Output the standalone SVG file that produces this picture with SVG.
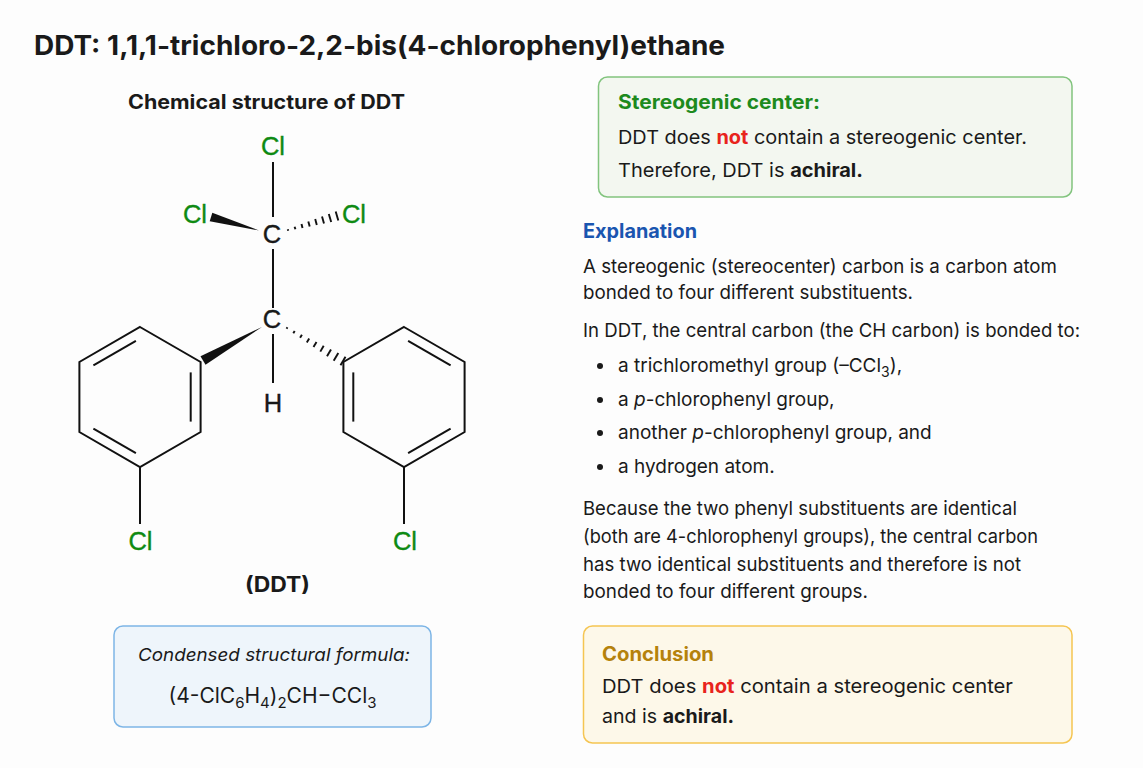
<svg xmlns="http://www.w3.org/2000/svg" width="1143" height="768" viewBox="0 0 1143 768">
<style>
text{font-family:Inter,"Liberation Sans",Arial,sans-serif;fill:#1a1a1a}
.b{font-weight:700}
.body{font-size:19px}
.atom{font-size:25.5px;text-anchor:middle;font-family:"Liberation Sans",Arial,sans-serif;stroke:#111;stroke-width:0.35}
.cl{fill:#0e8a12;stroke:#0e8a12}
.bond{stroke:#111;stroke-width:2;fill:none;stroke-linecap:butt}
.hash{stroke:#111;stroke-width:1.9}
.red{fill:#e8231d;font-weight:700}
</style>
<rect x="0" y="0" width="1143" height="768" fill="#fdfdfd"/>
<text id="title" class="b" x="34" y="55" font-size="26.5" textLength="691" lengthAdjust="spacingAndGlyphs">DDT: 1,1,1-trichloro-2,2-bis(4-chlorophenyl)ethane</text>

<g id="structure">
<text class="b" x="266.5" y="109" font-size="19.5" text-anchor="middle" textLength="277" lengthAdjust="spacingAndGlyphs">Chemical structure of DDT</text>
<g id="bonds">
<line class="bond" x1="273" y1="162" x2="273" y2="217"/>
<line class="bond" x1="273" y1="249" x2="273" y2="308"/>
<line class="bond" x1="273" y1="334" x2="273" y2="383"/>
<polygon points="259,230.5 212.3,212.7 209.7,221.3" fill="#111"/>
<g class="hash">
<line x1="287.8" y1="229.2" x2="288.2" y2="230.8"/>
<line x1="294.6" y1="226.7" x2="295.4" y2="229.3"/>
<line x1="301.5" y1="224.1" x2="302.5" y2="227.9"/>
<line x1="308.3" y1="221.6" x2="309.7" y2="226.4"/>
<line x1="315.2" y1="219" x2="316.8" y2="225"/>
<line x1="322" y1="216.5" x2="324" y2="223.5"/>
<line x1="328.8" y1="213.9" x2="331.2" y2="222.1"/>
<line x1="335.7" y1="211.4" x2="338.3" y2="220.6"/>
</g>
<polygon points="262,327 205.5,364.8 200.5,356.2" fill="#111"/>
<g class="hash">
<line x1="287.4" y1="327.3" x2="286.6" y2="328.7"/>
<line x1="294.7" y1="331" x2="293.3" y2="333.2"/>
<line x1="301.9" y1="334.7" x2="300.1" y2="337.8"/>
<line x1="309.2" y1="338.4" x2="306.8" y2="342.5"/>
<line x1="316.5" y1="342" x2="313.5" y2="347"/>
<line x1="323.7" y1="345.7" x2="320.3" y2="351.6"/>
<line x1="331" y1="349.4" x2="327" y2="356.2"/>
<line x1="338.3" y1="353.1" x2="333.7" y2="360.8"/>
<line x1="345.5" y1="356.7" x2="340.5" y2="365.3"/>
</g>
</g>
<g id="ring-left">
<polygon class="bond" points="140,327 200.6,362 200.6,432 140,467 79.4,432 79.4,362"/>
<line class="bond" x1="135.9" y1="340.8" x2="93.4" y2="365.4"/>
<line class="bond" x1="190.7" y1="372.4" x2="190.7" y2="421.6"/>
<line class="bond" x1="93.4" y1="428.6" x2="135.9" y2="453.2"/>
<line class="bond" x1="140" y1="467" x2="140" y2="524"/>
</g>
<g id="ring-right">
<polygon class="bond" points="404,327 464.6,362 464.6,432 404,467 343.4,432 343.4,362"/>
<line class="bond" x1="408.1" y1="340.8" x2="450.6" y2="365.4"/>
<line class="bond" x1="353.3" y1="372.4" x2="353.3" y2="421.6"/>
<line class="bond" x1="450.6" y1="428.6" x2="408.1" y2="453.2"/>
<line class="bond" x1="404" y1="467" x2="404" y2="524"/>
</g>
<g id="atoms">
<text class="atom cl" x="273" y="155">Cl</text>
<text class="atom cl" x="195" y="223">Cl</text>
<text class="atom cl" x="354" y="223">Cl</text>
<text class="atom" x="272" y="243">C</text>
<text class="atom" x="272" y="328">C</text>
<text class="atom" x="273" y="412">H</text>
<text class="atom cl" x="140.5" y="550">Cl</text>
<text class="atom cl" x="405" y="550">Cl</text>
</g>
<text class="b" x="277.5" y="592" font-size="21" text-anchor="middle" textLength="65" lengthAdjust="spacingAndGlyphs">(DDT)</text>
</g>

<g id="formula-box">
<rect x="114" y="626" width="317" height="101" rx="9" fill="#eef5fb" stroke="#7db5e6" stroke-width="1.5"/>
<text x="274" y="661" font-size="17.5" font-style="italic" text-anchor="middle" textLength="272" lengthAdjust="spacingAndGlyphs">Condensed structural formula:</text>
<text x="272.5" y="703" font-size="21" text-anchor="middle">(4-ClC<tspan font-size="15" dy="5">6</tspan><tspan dy="-5">H</tspan><tspan font-size="15" dy="5">4</tspan><tspan dy="-5">)</tspan><tspan font-size="15" dy="5">2</tspan><tspan dy="-5">CH−CCl</tspan><tspan font-size="15" dy="5">3</tspan></text>
</g>

<g id="stereo-box">
<rect x="598.5" y="77" width="473.5" height="120" rx="9" fill="#f3f7f0" stroke="#82c47e" stroke-width="1.5"/>
<text class="b" x="618" y="109" font-size="19.5" style="fill:#1d8a1d" textLength="202" lengthAdjust="spacingAndGlyphs">Stereogenic center:</text>
<text class="body" x="618" y="144" textLength="409" lengthAdjust="spacingAndGlyphs">DDT does <tspan class="red">not</tspan> contain a stereogenic center.</text>
<text class="body" x="618" y="177" textLength="245" lengthAdjust="spacingAndGlyphs">Therefore, DDT is <tspan class="b">achiral.</tspan></text>
</g>

<g id="explanation">
<text class="b" x="583" y="238" font-size="19.5" style="fill:#1a55b0" textLength="114" lengthAdjust="spacingAndGlyphs">Explanation</text>
<text class="body" x="583" y="273" textLength="474" lengthAdjust="spacingAndGlyphs">A stereogenic (stereocenter) carbon is a carbon atom</text>
<text class="body" x="583" y="299" textLength="330" lengthAdjust="spacingAndGlyphs">bonded to four different substituents.</text>
<text class="body" x="583" y="337" textLength="497" lengthAdjust="spacingAndGlyphs">In DDT, the central carbon (the CH carbon) is bonded to:</text>
<g fill="#1a1a1a">
<circle cx="600" cy="366" r="3"/>
<circle cx="600" cy="400" r="3"/>
<circle cx="600" cy="433" r="3"/>
<circle cx="600" cy="467" r="3"/>
</g>
<text class="body" x="618" y="372">a trichloromethyl group (–CCl<tspan font-size="14" dy="5">3</tspan><tspan dy="-5">),</tspan></text>
<text class="body" x="618" y="406">a <tspan font-style="italic">p</tspan>-chlorophenyl group,</text>
<text class="body" x="618" y="439">another <tspan font-style="italic">p</tspan>-chlorophenyl group, and</text>
<text class="body" x="618" y="473">a hydrogen atom.</text>
<text class="body" x="583" y="515" textLength="434" lengthAdjust="spacingAndGlyphs">Because the two phenyl substituents are identical</text>
<text class="body" x="583" y="543" textLength="455" lengthAdjust="spacingAndGlyphs">(both are 4-chlorophenyl groups), the central carbon</text>
<text class="body" x="583" y="571" textLength="438" lengthAdjust="spacingAndGlyphs">has two identical substituents and therefore is not</text>
<text class="body" x="583" y="598" textLength="285" lengthAdjust="spacingAndGlyphs">bonded to four different groups.</text>
</g>

<g id="conclusion-box">
<rect x="583.5" y="626" width="488.5" height="117" rx="9" fill="#fdf8e9" stroke="#f5c552" stroke-width="1.5"/>
<text class="b" x="602" y="661" font-size="19.5" style="fill:#b5820c" textLength="112" lengthAdjust="spacingAndGlyphs">Conclusion</text>
<text class="body" x="602" y="693" textLength="411" lengthAdjust="spacingAndGlyphs">DDT does <tspan class="red">not</tspan> contain a stereogenic center</text>
<text class="body" x="602" y="723" textLength="132" lengthAdjust="spacingAndGlyphs">and is <tspan class="b">achiral.</tspan></text>
</g>
</svg>
